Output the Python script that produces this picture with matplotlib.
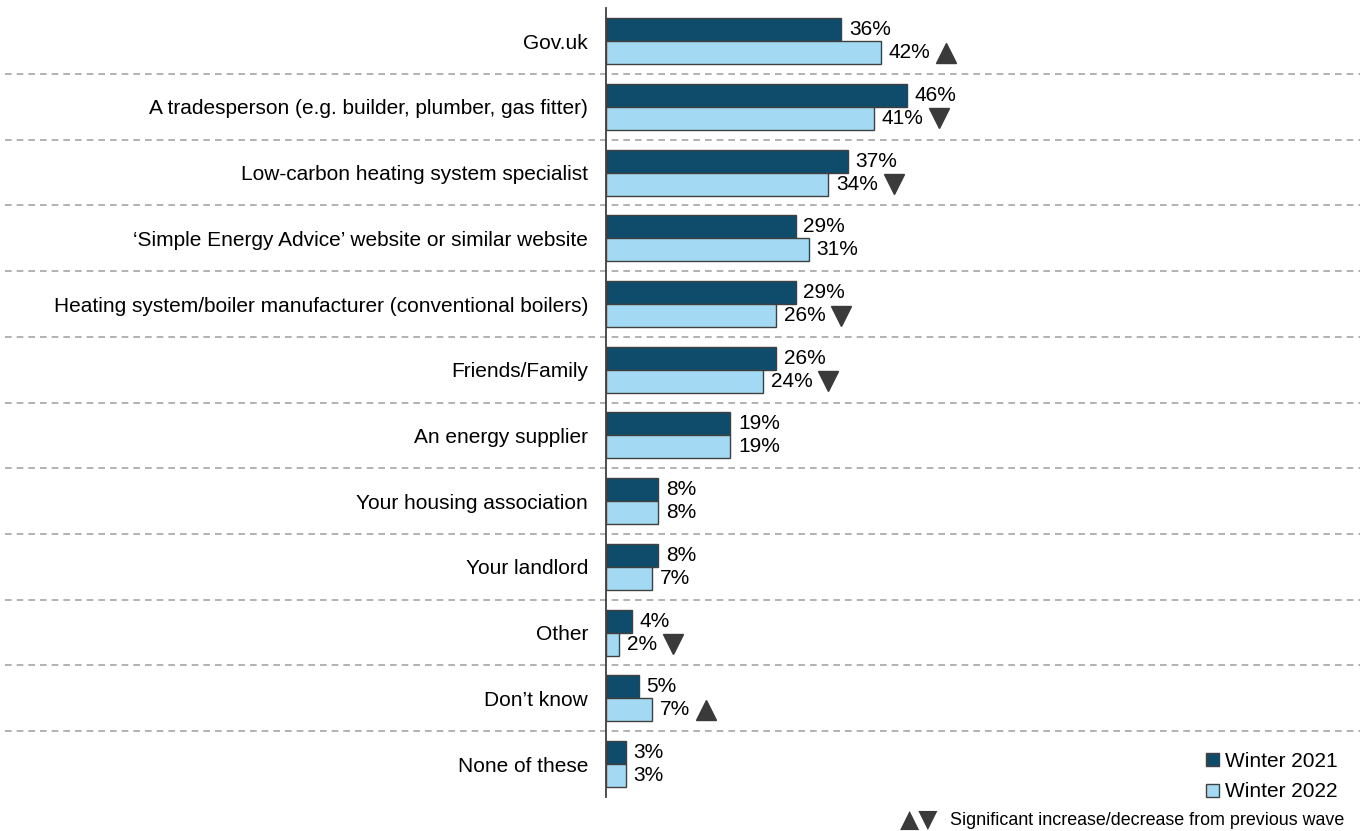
import numpy as np
import matplotlib.pyplot as plt
from matplotlib.patches import Patch
from matplotlib.transforms import offset_copy, blended_transform_factory

plt.rcParams['font.family'] = ['Liberation Sans', 'DejaVu Sans']

# sources of information
sources = ["Gov.uk",
           "A tradesperson (e.g. builder, plumber, gas fitter)",
           "Low-carbon heating system specialist",
           "\u2018Simple Energy Advice\u2019 website or similar website",
           "Heating system/boiler manufacturer (conventional boilers)",
           "Friends/Family",
           "An energy supplier",
           "Your housing association",
           "Your landlord",
           "Other",
           "Don\u2019t know",
           "None of these"]
winter_2021 = [36, 46, 37, 29, 29, 26, 19, 8, 8, 4, 5, 3]
winter_2022 = [42, 41, 34, 31, 26, 24, 19, 8, 7, 2, 7, 3]
# significance vs previous wave: 1 up, -1 down, 0 none
change_2022 = [1, -1, -1, 0, -1, -1, 0, 0, 0, -1, 1, 0]

dark = "#0f4c6b"
light = "#a3d9f2"
edge = "#404040"
marker_col = "#3a3a3a"
fs = 15

fig = plt.figure(figsize=(13.67, 8.31), dpi=100)
ax = fig.add_axes([0.4433, 0.041, 0.5517, 0.949])

y = np.arange(len(sources))
h = 0.35
ax.barh(y - h / 2, winter_2021, height=h, color=dark, edgecolor=edge, linewidth=1)
ax.barh(y + h / 2, winter_2022, height=h, color=light, edgecolor=edge, linewidth=1)

for i in range(len(sources)):
    ax.annotate(f"{winter_2021[i]}%", (winter_2021[i], y[i] - h / 2), xytext=(5.5, 0),
                textcoords="offset points", va="center", ha="left", fontsize=fs)
    lab = f"{winter_2022[i]}%"
    ax.annotate(lab, (winter_2022[i], y[i] + h / 2), xytext=(5.5, 0),
                textcoords="offset points", va="center", ha="left", fontsize=fs)
    if change_2022[i] != 0:
        shift = 47 if len(lab) == 3 else 39
        tr = offset_copy(ax.transData, fig=fig, x=shift, y=0, units="points")
        ax.plot(winter_2022[i], y[i] + h / 2, marker="^" if change_2022[i] > 0 else "v",
                markersize=15, color=marker_col, transform=tr, clip_on=False)

# dashed separators between groups
sep = blended_transform_factory(ax.transAxes, ax.transData)
for k in range(len(sources) - 1):
    ax.plot([-0.797, 1.0], [k + 0.5, k + 0.5], transform=sep, color="#a6a6a6",
            linestyle=(0, (4, 3)), linewidth=1.2, clip_on=False)

ax.set_xlim(0, 115.3)
ax.set_ylim(len(sources) - 0.5, -0.5)
ax.set_yticks(y)
ax.set_yticklabels(sources, fontsize=fs)
ax.tick_params(axis="y", length=0, pad=13)
ax.set_xticks([])
for s in ["top", "right", "bottom"]:
    ax.spines[s].set_visible(False)
ax.spines["left"].set_color(edge)
ax.spines["left"].set_linewidth(1.3)

handles = [Patch(facecolor=dark, edgecolor=edge, label="Winter 2021"),
           Patch(facecolor=light, edgecolor=edge, label="Winter 2022")]
fig.legend(handles=handles, loc="lower right", bbox_to_anchor=(0.983, 0.028), frameon=False,
           fontsize=fs, handlelength=0.6, handleheight=0.6, handletextpad=0.3,
           labelspacing=0.55, borderaxespad=0.0, borderpad=0.3)

fig.text(0.6585, 0.013, "\u25b2\u25bc", fontsize=18, color=marker_col,
         family="DejaVu Sans", va="center")
fig.text(0.695, 0.013, "Significant increase/decrease from previous wave",
         fontsize=12.9, va="center")

fig.savefig("out.png", dpi=100)
